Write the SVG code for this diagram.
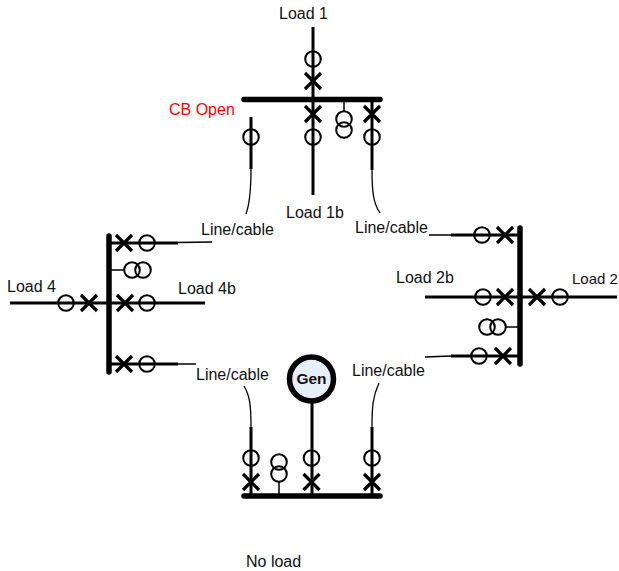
<svg xmlns="http://www.w3.org/2000/svg" width="619" height="571" viewBox="0 0 619 571">
<style>
text{font-family:"Liberation Sans",Arial,sans-serif;font-size:16px;fill:#111}
.bus{stroke:#000;stroke-width:5.5;stroke-linecap:round;fill:none}
.f{stroke:#000;stroke-width:3;fill:none}
.t{stroke:#000;stroke-width:1.3;fill:none}
.s{stroke:#000;stroke-width:1.5;fill:none}
.c{stroke:#000;stroke-width:2;fill:none}
.x{stroke:#000;stroke-width:3.200;fill:none}
</style>
<defs>
<circle id="o" r="7.800" class="c"/>
<path id="k" d="M-8,-8L8,8M-8,8L8,-8" class="x"/>
</defs>
<rect width="619" height="571" fill="#fff"/>
<g id="connectors">
<path class="f" d="M313,27V195M372,100V170M251,117V169M109,243H178M10,303H205M109,364H178M451,235H520M425,297H617M451,356H520M251,427V496M312,400V496M372,427V496"/>
<path class="t" d="M372,170C372,190 373,203 380,213M251,169C251,190 250,203 246,214M178,242.500L212,242M178,364H196M451,235H429M451,356L425,357M251,427C251,406 250,396 244,386M372,427C372,406 373,396 379,383"/>
<path class="s" d="M344,100V112M109,270H124M520,327H506M279,496V482"/>
</g>
<g id="bus-top"><path class="bus" d="M244,99.500H380"/><use href="#o" x="313" y="59"/><use href="#k" x="313" y="81"/><use href="#k" x="313" y="114"/><use href="#o" x="313" y="137"/><use href="#k" x="372" y="114"/><use href="#o" x="372" y="137"/><use href="#o" x="251" y="137"/><use href="#o" x="344" y="119"/><use href="#o" x="344" y="130"/></g>
<g id="bus-left"><path class="bus" d="M109,236V372"/><use href="#k" x="124" y="243"/><use href="#o" x="147" y="243"/><use href="#o" x="132" y="270"/><use href="#o" x="143" y="270"/><use href="#o" x="66" y="303"/><use href="#k" x="89" y="303"/><use href="#k" x="125" y="303"/><use href="#o" x="147" y="303"/><use href="#k" x="124" y="364"/><use href="#o" x="147" y="364"/></g>
<g id="bus-right"><path class="bus" d="M520,228V364"/><use href="#o" x="482" y="235"/><use href="#k" x="505" y="235"/><use href="#o" x="483" y="297"/><use href="#k" x="505" y="297"/><use href="#k" x="537" y="297"/><use href="#o" x="560" y="297"/><use href="#o" x="487" y="327"/><use href="#o" x="498" y="327"/><use href="#o" x="479" y="356"/><use href="#k" x="503" y="356"/></g>
<g id="bus-bottom"><path class="bus" d="M244,496H380"/><use href="#o" x="251" y="458"/><use href="#k" x="251" y="482"/><use href="#o" x="279" y="462"/><use href="#o" x="279" y="474"/><use href="#o" x="311.500" y="458"/><use href="#k" x="311.500" y="482"/><use href="#o" x="372" y="458"/><use href="#k" x="372" y="482"/></g>
<g id="gen"><circle cx="311.500" cy="379" r="22" fill="#E8EEF7" stroke="#000" stroke-width="5.500"/><text x="311.500" y="384" text-anchor="middle" style="font-weight:bold;font-size:15.500px">Gen</text></g>
<g id="labels">
<text x="279" y="19">Load 1</text>
<text x="169" y="115" style="fill:#f00">CB Open</text>
<text x="286" y="218">Load 1b</text>
<text x="201" y="235">Line/cable</text>
<text x="355" y="233">Line/cable</text>
<text x="7" y="292">Load 4</text>
<text x="178" y="294">Load 4b</text>
<text x="396" y="283">Load 2b</text>
<text x="572" y="284" style="font-size:15px">Load 2</text>
<text x="196" y="380">Line/cable</text>
<text x="352" y="376">Line/cable</text>
<text x="246" y="567">No load</text>
</g>
</svg>
